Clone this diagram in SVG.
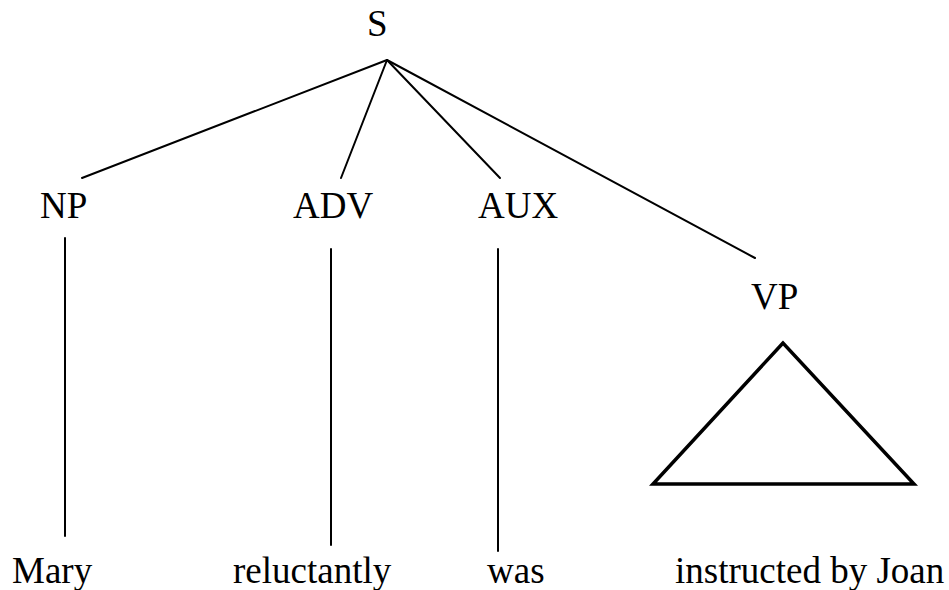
<svg xmlns="http://www.w3.org/2000/svg" width="949" height="590" viewBox="0 0 949 590">
  <style>
    .edge { stroke: #000; stroke-width: 2; fill: none; stroke-linecap: round; }
    .tri { stroke: #000; stroke-width: 3.5; fill: none; stroke-linejoin: miter; }
    .lbl { font-family: "Times New Roman", "Liberation Serif", Times, serif; font-size: 37px; fill: #000; }
  </style>
  <rect width="949" height="590" fill="#fff"/>

  <g id="connectors">
    <line class="edge" x1="387" y1="60" x2="82" y2="178"/>
    <line class="edge" x1="387" y1="60" x2="341" y2="178"/>
    <line class="edge" x1="387" y1="60" x2="500" y2="178"/>
    <line class="edge" x1="387" y1="60" x2="755" y2="258"/>
    <line class="edge" x1="65" y1="238" x2="65" y2="536"/>
    <line class="edge" x1="331" y1="249" x2="331" y2="545"/>
    <line class="edge" x1="498" y1="249" x2="498" y2="551"/>
  </g>

  <g id="node-S"><text class="lbl" x="367" y="36">S</text></g>
  <g id="node-NP"><text class="lbl" x="40" y="218">NP</text></g>
  <g id="node-ADV"><text class="lbl" x="293" y="218">ADV</text></g>
  <g id="node-AUX"><text class="lbl" x="478" y="218">AUX</text></g>
  <g id="node-VP">
    <text class="lbl" x="751" y="309">VP</text>
    <polygon class="tri" points="783,343 653,484 914,484"/>
  </g>
  <g id="leaf-Mary"><text class="lbl" x="12" y="583">Mary</text></g>
  <g id="leaf-reluctantly"><text class="lbl" x="233" y="583">reluctantly</text></g>
  <g id="leaf-was"><text class="lbl" x="487" y="583">was</text></g>
  <g id="leaf-instructed"><text class="lbl" x="675" y="583">instructed by Joan</text></g>
</svg>
